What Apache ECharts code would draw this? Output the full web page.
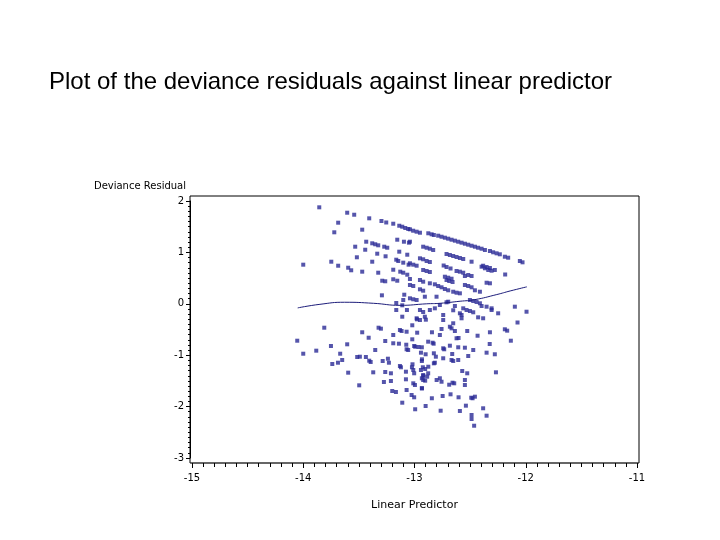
<!DOCTYPE html>
<html>
<head>
<meta charset="utf-8">
<title>Deviance residuals</title>
<script src="https://cdn.jsdelivr.net/npm/echarts@6/dist/echarts.min.js"></script>
<style>
  html, body { margin: 0; padding: 0; background: #fff; }
  #chart { width: 720px; height: 540px; }
</style>
</head>
<body>
<div id="chart"></div>
<script>
// axis ticks
const xTicks = [-15, -14, -13, -12, -11]
const yTicks = [-3, -2, -1, 0, 1, 2]

// upper diagonal bands (linear predictor, deviance residual)
const upperPoints = [
  [-13.856,1.877],[-13.605,1.772],[-13.542,1.733],[-13.407,1.663],[-13.686,1.578],[-13.297,1.611],[-13.254,1.582],[-13.191,1.558],
  [-13.137,1.519],[-13.110,1.500],[-13.083,1.475],[-13.056,1.455],[-13.041,1.449],[-13.012,1.422],[-12.981,1.403],[-12.951,1.383],
  [-12.876,1.372],[-12.846,1.352],[-12.826,1.339],[-12.787,1.325],[-12.757,1.305],[-12.727,1.286],[-12.697,1.267],[-12.667,1.247],
  [-12.637,1.228],[-12.607,1.208],[-12.577,1.189],[-12.547,1.169],[-12.517,1.150],[-12.487,1.130],[-12.457,1.111],[-12.428,1.091],
  [-12.397,1.072],[-12.367,1.047],[-12.322,1.027],[-12.293,1.002],[-12.262,0.982],[-12.233,0.963],[-12.188,0.916],[-12.158,0.897],
  [-12.053,0.833],[-12.029,0.807],
  [-13.721,1.391],[-13.470,1.442],[-13.155,1.247],[-13.095,1.208],[-13.050,1.189],[-13.434,1.208],[-13.380,1.177],[-13.353,1.158],
  [-13.326,1.138],[-13.272,1.111],[-13.245,1.091],[-13.533,1.111],[-13.443,1.052],[-13.137,1.014],[-13.065,0.955],[-13.335,0.975],
  [-13.041,1.208],[-12.922,1.111],[-12.891,1.091],[-12.862,1.072],[-12.832,1.047],[-12.712,0.969],[-12.682,0.949],[-12.652,0.930],
  [-12.622,0.910],[-12.592,0.891],[-12.562,0.872],[-12.487,0.819],[-12.383,0.741],[-12.352,0.716],[-12.322,0.696],[-12.278,0.658],
  [-12.185,0.570]
]

// middle bands, around zero
const middlePoints = [
  [-14.000,0.761],[-13.748,0.819],[-13.686,0.741],[-13.518,0.905],[-13.380,0.819],[-13.260,0.924],[-13.164,0.858],[-13.146,0.833],
  [-13.101,0.800],[-13.053,0.761],[-13.596,0.702],[-13.569,0.652],[-13.470,0.625],[-13.326,0.605],[-13.191,0.663],[-13.128,0.625],
  [-13.101,0.605],[-13.065,0.566],[-13.290,0.449],[-13.263,0.438],[-13.191,0.477],[-13.155,0.449],[-13.293,0.165],[-13.092,0.177],
  [-13.101,0.074],[-13.164,0.016],[-12.951,0.885],[-12.922,0.866],[-12.891,0.833],[-12.862,0.813],[-13.041,0.788],[-13.011,0.761],
  [-12.981,0.741],[-12.738,0.745],[-12.712,0.716],[-12.676,0.687],[-12.622,0.638],[-12.592,0.625],[-12.562,0.605],[-12.517,0.560],
  [-12.487,0.541],[-12.397,0.722],[-12.367,0.691],[-12.337,0.658],[-12.307,0.644],[-12.922,0.658],[-12.891,0.638],[-12.862,0.619],
  [-12.352,0.410],[-12.322,0.399],[-12.712,0.463],[-12.688,0.444],[-12.658,0.424],[-12.547,0.366],[-12.517,0.346],[-12.487,0.321],
  [-12.457,0.263],[-12.412,0.235],[-13.041,0.482],[-12.951,0.463],[-12.922,0.430],[-12.862,0.399],[-12.727,0.527],[-12.697,0.508],
  [-12.667,0.488],[-12.547,0.541],[-13.041,0.366],[-13.011,0.346],[-12.951,0.282],[-12.922,0.255],[-12.817,0.379],[-12.787,0.346],
  [-12.757,0.321],[-12.727,0.288],[-12.697,0.263],[-12.652,0.235],[-12.622,0.216],[-12.592,0.204],[-13.041,0.107],[-13.011,0.088],
  [-12.981,0.074],[-12.907,0.138],[-12.802,0.138],[-12.697,0.041],[-12.502,0.074],[-12.472,0.054],[-12.442,0.035],[-12.412,0.010],
  [-12.712,0.029],
  [-13.110,-0.029],[-13.164,-0.121],[-13.068,-0.121],[-13.110,-0.251],[-12.637,-0.043],[-12.562,-0.088],[-12.532,-0.121],[-12.502,-0.140],
  [-12.472,-0.165],[-12.352,-0.056],[-12.307,-0.088],[-12.248,-0.185],[-12.098,-0.056],[-11.993,-0.154],[-12.862,-0.121],[-12.817,-0.088],
  [-12.951,-0.121],[-12.922,-0.160],[-12.772,-0.023],[-12.742,-0.218],[-12.981,-0.282],[-12.907,-0.251],[-12.577,-0.218],[-12.428,-0.263],
  [-12.074,-0.364],[-12.383,-0.282],[-12.397,-0.043],[-12.652,-0.126],[-12.577,-0.282],[-12.592,-0.185],[-12.307,-0.121]
]

// lower scattered cloud
const lowerPoints = [
  [-13.811,-0.465],[-14.054,-0.718],[-14.000,-0.971],[-13.883,-0.912],[-13.751,-0.821],[-13.739,-1.171],[-13.688,-1.146],[-13.668,-0.971],
  [-13.650,-1.093],[-13.596,-1.340],[-13.605,-0.788],[-13.470,-0.554],[-13.497,-1.586],[-13.515,-1.035],[-13.491,-1.029],[-13.437,-1.035],
  [-13.407,-1.107],[-13.394,-1.132],[-13.412,-0.660],[-13.353,-0.899],[-13.371,-1.333],[-13.323,-0.465],[-13.302,-0.484],[-13.263,-0.724],
  [-13.286,-1.113],[-13.239,-1.068],[-13.230,-1.146],[-13.263,-1.327],[-13.212,-1.352],[-13.191,-0.607],[-13.191,-0.768],[-13.140,-0.776],
  [-13.131,-0.510],[-13.116,-0.529],[-13.074,-0.796],[-13.071,-0.543],[-13.071,-0.885],[-13.057,-0.899],[-13.131,-1.210],[-13.122,-1.235],
  [-13.023,-1.235],[-13.077,-1.321],[-13.212,-1.502],[-13.275,-1.521],[-13.167,-1.716],[-13.200,-1.696],[-13.077,-1.469],[-13.071,-1.677],
  [-13.026,-1.774],[-13.003,-1.819],[-13.110,-1.924],[-12.994,-2.052],
  [-13.020,-0.418],[-13.020,-0.691],[-13.003,-0.821],[-12.978,-0.302],[-12.951,-0.315],[-12.976,-0.562],[-12.942,-0.951],[-12.933,-1.080],
  [-12.942,-1.288],[-13.011,-1.547],[-12.933,-1.644],[-12.904,-1.496],[-12.922,-1.405],[-12.877,-1.352],[-12.900,-1.988],[-12.844,-1.838],
  [-12.877,-0.737],[-12.837,-0.757],[-12.826,-0.963],[-12.817,-1.146],[-12.772,-0.607],[-12.742,-0.866],[-12.801,-1.482],[-12.765,-2.080],
  [-12.747,-1.794],[-12.772,-1.449],[-12.688,-1.574],[-12.658,-1.535],[-12.682,-0.446],[-12.667,-0.477],[-12.607,-1.093],[-12.652,-0.379],
  [-12.622,-0.671],[-12.604,-1.819],[-12.742,-0.315],
  [-12.898,-0.309],[-12.637,-0.529],[-12.757,-0.490],[-12.843,-0.554],[-12.828,-0.776],[-12.604,-0.665],[-12.526,-0.529],[-12.433,-0.621],
  [-12.322,-0.554],[-12.188,-0.496],[-12.167,-0.523],[-12.134,-0.718],[-12.324,-0.782],[-12.994,-0.835],[-12.964,-0.840],[-12.934,-0.846],
  [-12.733,-0.885],[-12.682,-0.815],[-12.607,-0.846],[-12.547,-0.854],[-12.472,-0.899],[-12.900,-0.982],[-12.808,-1.029],[-12.742,-1.060],
  [-12.661,-0.977],[-12.667,-1.093],[-12.652,-1.113],[-12.517,-1.016],[-12.352,-0.951],[-12.278,-0.982],[-13.018,-1.177],[-12.934,-1.113],
  [-12.925,-1.235],[-12.904,-1.268],[-12.876,-1.224],[-12.826,-1.158],[-13.011,-1.288],[-13.003,-1.352],[-12.922,-1.385],[-12.886,-1.418],
  [-12.934,-1.449],[-12.922,-1.482],[-12.757,-1.516],[-12.643,-1.547],[-12.571,-1.307],[-12.526,-1.352],[-12.547,-1.482],[-12.547,-1.580],
  [-12.268,-1.333],[-12.996,-1.580],[-12.934,-1.644],[-12.676,-1.761],[-12.490,-1.827],[-12.478,-1.838],[-12.457,-1.807],[-12.592,-2.085],
  [-12.538,-1.982],[-12.383,-2.033],[-12.352,-2.177],[-12.487,-2.163],[-12.487,-2.241],[-12.464,-2.372]
]

// smoothed trend
const smoothX = [-14.05, -13.85, -13.63, -13.37, -13.13, -12.89, -12.77, -12.59, -12.46, -12.26, -12.14, -11.99]
const smoothY = [-0.08, -0.01, 0.03, 0.01, -0.03, 0.00, 0.01, 0.05, 0.08, 0.18, 0.25, 0.33]

const labelFont = { fontFamily: 'DejaVu Sans', fontSize: 10, color: '#000' }

const chart = echarts.init(document.getElementById('chart'))
chart.setOption({
  animation: false,
  title: {
    text: 'Plot of the deviance residuals against linear predictor',
    left: 44,
    top: 65,
    textStyle: { fontFamily: 'Liberation Sans', fontSize: 24, fontWeight: 'normal', color: '#000' }
  },
  grid: [
    // data area
    { left: 192, right: 83, top: 201, bottom: 82 },
    // outer frame
    { left: 190, right: 81, top: 196, bottom: 77, show: true, borderColor: '#000', borderWidth: 1, backgroundColor: 'transparent' }
  ],
  xAxis: [
    {
      type: 'value',
      gridIndex: 0,
      min: xTicks[0],
      max: xTicks[xTicks.length - 1],
      interval: 1,
      offset: 5,
      name: 'Linear Predictor',
      nameLocation: 'middle',
      nameGap: 37,
      nameTextStyle: { fontFamily: 'DejaVu Sans', fontSize: 11, color: '#000' },
      axisLine: { onZero: false, lineStyle: { color: '#666', width: 2 } },
      axisTick: { length: 5, lineStyle: { color: '#000' } },
      minorTick: { show: true, splitNumber: 10, length: 4, lineStyle: { color: '#000' } },
      splitLine: { show: false },
      axisLabel: Object.assign({ margin: 10 }, labelFont)
    },
    { type: 'value', gridIndex: 1, show: false, min: 0, max: 1 }
  ],
  yAxis: [
    {
      type: 'value',
      gridIndex: 0,
      min: yTicks[0],
      max: yTicks[yTicks.length - 1],
      interval: 1,
      offset: 2,
      name: 'Deviance Residual',
      nameLocation: 'end',
      nameGap: 10,
      nameTextStyle: { fontFamily: 'DejaVu Sans', fontSize: 10, color: '#000', align: 'right', padding: [0, 4, 0, 0] },
      axisLine: { show: true, onZero: false, lineStyle: { color: '#000', width: 1 } },
      axisTick: { length: 4, lineStyle: { color: '#000' } },
      minorTick: { show: true, splitNumber: 10, length: 2, lineStyle: { color: '#000' } },
      splitLine: { show: false },
      axisLabel: Object.assign({ margin: 6 }, labelFont)
    },
    { type: 'value', gridIndex: 1, show: false, min: 0, max: 1 }
  ],
  series: [
    {
      type: 'scatter',
      xAxisIndex: 0,
      yAxisIndex: 0,
      symbol: 'rect',
      symbolSize: 4,
      itemStyle: { color: '#2a2a96' },
      data: upperPoints.concat(middlePoints, lowerPoints)
    },
    {
      type: 'line',
      xAxisIndex: 0,
      yAxisIndex: 0,
      smooth: true,
      showSymbol: false,
      lineStyle: { color: '#1c1c7a', width: 1 },
      data: smoothX.map((x, i) => [x, smoothY[i]])
    }
  ]
})
</script>
</body>
</html>
